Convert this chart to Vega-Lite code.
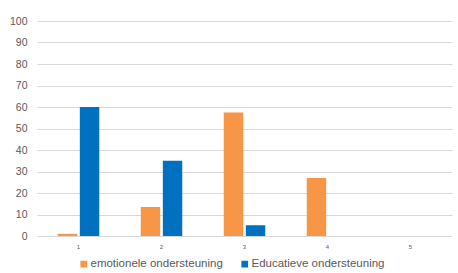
{
  "$schema": "https://vega.github.io/schema/vega-lite/v6.json",
  "width": 415,
  "height": 215,
  "autosize": {"type": "none"},
  "padding": {"left": 37, "top": 21, "right": 6, "bottom": 37},
  "background": "white",
  "data": {
    "values": [
      {"cat": "1", "series": "emotionele ondersteuning", "value": 1},
      {"cat": "1", "series": "Educatieve ondersteuning", "value": 60},
      {"cat": "2", "series": "emotionele ondersteuning", "value": 13.5},
      {"cat": "2", "series": "Educatieve ondersteuning", "value": 35},
      {"cat": "3", "series": "emotionele ondersteuning", "value": 57.5},
      {"cat": "3", "series": "Educatieve ondersteuning", "value": 5},
      {"cat": "4", "series": "emotionele ondersteuning", "value": 27},
      {"cat": "4", "series": "Educatieve ondersteuning", "value": 0},
      {"cat": "5", "series": "emotionele ondersteuning", "value": 0},
      {"cat": "5", "series": "Educatieve ondersteuning", "value": 0}
    ]
  },
  "mark": {"type": "bar"},
  "encoding": {
    "x": {
      "field": "cat", "type": "nominal", "title": null,
      "scale": {"paddingInner": 0.5, "paddingOuter": 0.25},
      "axis": {"labelAngle": 0, "labelFontSize": 6, "labelColor": "#595959", "ticks": false, "domain": false, "labelPadding": 7, "labelFont": "Liberation Sans"}
    },
    "xOffset": {
      "field": "series", "type": "nominal",
      "sort": ["emotionele ondersteuning", "Educatieve ondersteuning"],
      "scale": {"paddingInner": 0.12}
    },
    "y": {
      "field": "value", "type": "quantitative", "title": null,
      "scale": {"domain": [0, 100], "nice": false},
      "axis": {"values": [0,10,20,30,40,50,60,70,80,90,100], "grid": true, "gridColor": "#d9d9d9", "gridWidth": 1, "ticks": false, "domain": false, "labelPadding": 10, "labelFontSize": 10.5, "labelColor": "#595959", "labelFont": "Liberation Sans"}
    },
    "color": {
      "field": "series", "type": "nominal", "title": null,
      "sort": ["emotionele ondersteuning", "Educatieve ondersteuning"],
      "scale": {"domain": ["emotionele ondersteuning", "Educatieve ondersteuning"], "range": ["#F79646", "#0070C0"]},
      "legend": {
        "orient": "none", "legendX": 41, "legendY": 237, "direction": "horizontal",
        "symbolType": "square", "symbolSize": 45, "symbolStrokeWidth": 0,
        "labelFontSize": 11.5, "labelColor": "#595959", "labelFont": "Liberation Sans",
        "labelOffset": 1, "columnPadding": 16
      }
    }
  },
  "config": {"view": {"stroke": null}}
}
